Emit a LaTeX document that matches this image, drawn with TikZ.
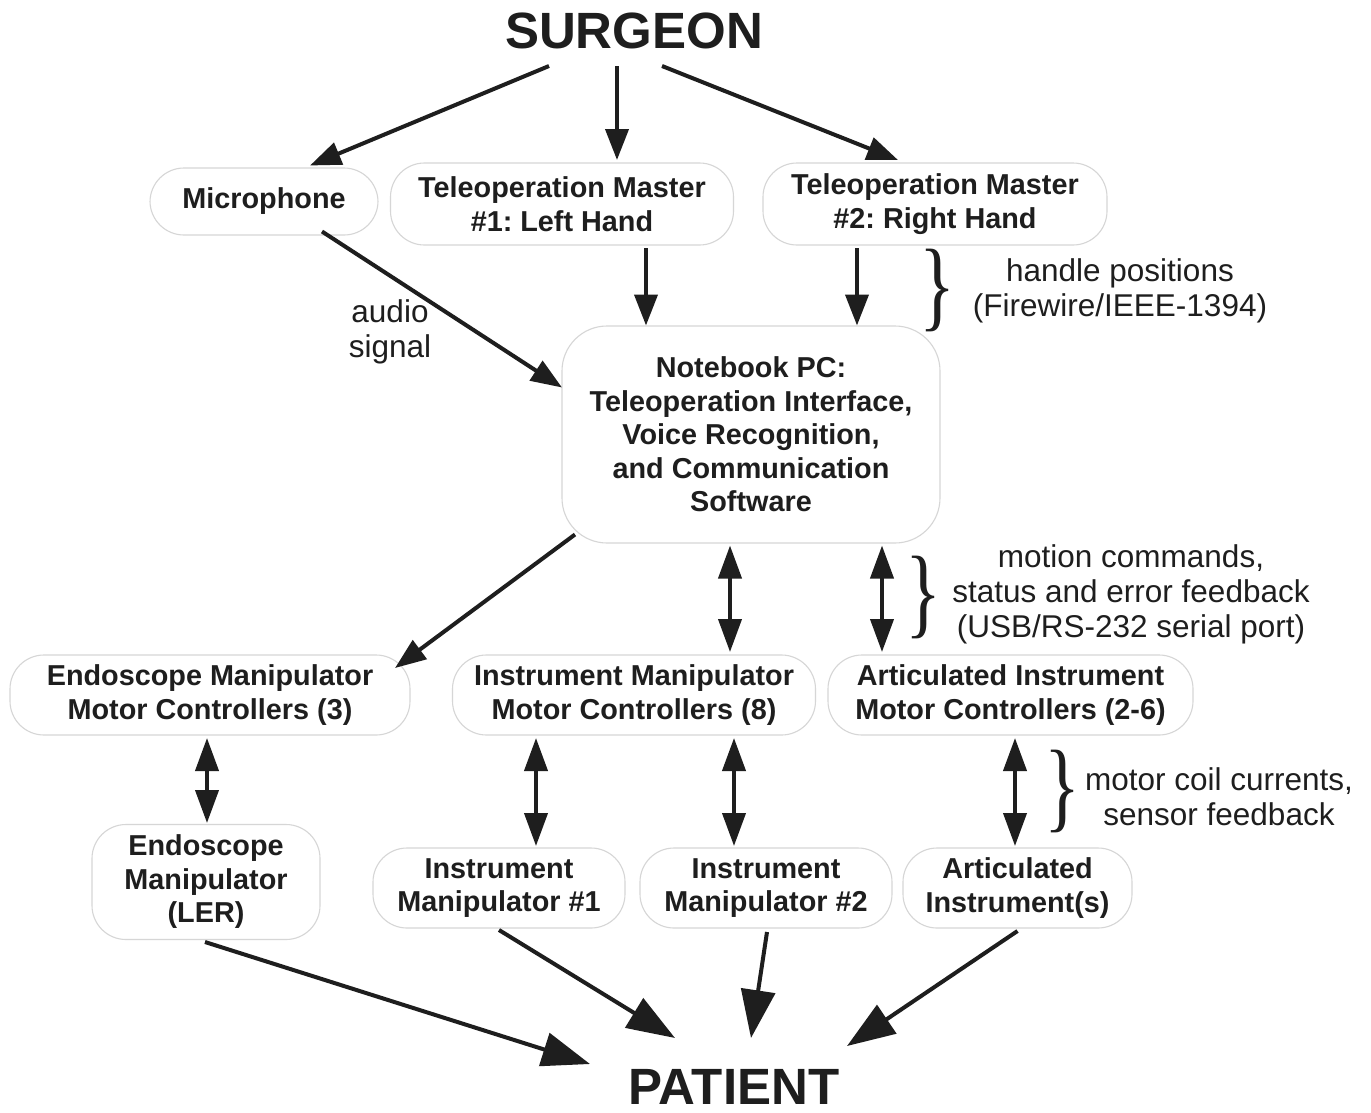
\documentclass[tikz,border=0pt]{standalone}
\usepackage{fontspec}
\setmainfont{Liberation Sans}
\newfontfamily\braceserif{Liberation Serif}
\usetikzlibrary{arrows.meta}
\definecolor{ink}{HTML}{1E1E1E}
\definecolor{boxline}{HTML}{D6D6D6}
\frenchspacing
\begin{document}
\begin{tikzpicture}[x=1pt,y=-1pt,
  rbox/.style={draw=boxline, line width=1.1pt, rounded corners=34pt, align=center,
    inner sep=0pt, text=ink, font=\fontsize{28.8}{33.5}\selectfont\bfseries},
  lbl/.style={align=center, inner sep=0pt, text=ink, font=\fontsize{31.5}{35}\selectfont},
  big/.style={inner sep=0pt, text=ink, font=\fontsize{51}{51}\selectfont\bfseries},
  brc/.style={inner sep=0pt, text=ink},
  arr/.style={draw=ink, line width=4pt, -{Triangle[length=31pt,width=23pt]}},
  darr/.style={draw=ink, line width=4pt, {Triangle[length=33pt,width=23pt]}-{Triangle[length=33pt,width=23pt]}},
  bigarr/.style={draw=ink, line width=4pt, -{Triangle[length=48pt,width=34pt]}}]
\useasboundingbox (0,0) rectangle (1371,1112);
\fill[white] (0,0) rectangle (1371,1112);

\node[big] (surgeon) at (634,31) {SURGEON};
\node[big] (patient) at (734,1087) {PATIENT};

\node[rbox, minimum width=228pt, minimum height=67pt] (mic) at (264,201.5) {Microphone};
\node[rbox, minimum width=343pt, minimum height=82pt] (tm1) at (562,204) {Teleoperation Master\\\#1: Left Hand};
\node[rbox, minimum width=344pt, minimum height=82pt] (tm2) at (935,204) {Teleoperation Master\\\#2: Right Hand};
\node[rbox, rounded corners=45pt, minimum width=378pt, minimum height=217pt] (pc) at (751,434.5)
  {Notebook PC:\\Teleoperation Interface,\\Voice Recognition,\\and Communication\\Software};
\node[rbox, minimum width=400pt, minimum height=80pt] (emc) at (210,695) {Endoscope Manipulator\\Motor Controllers (3)};
\node[rbox, minimum width=363pt, minimum height=80pt] (imc) at (634,695) {Instrument Manipulator\\Motor Controllers (8)};
\node[rbox, minimum width=365pt, minimum height=80pt] (aic) at (1010.5,695) {Articulated Instrument\\Motor Controllers (2-6)};
\node[rbox, minimum width=228pt, minimum height=115pt] (ler) at (206,882) {Endoscope\\Manipulator\\(LER)};
\node[rbox, minimum width=252pt, minimum height=80pt] (im1) at (499,888) {Instrument\\Manipulator \#1};
\node[rbox, minimum width=252pt, minimum height=80pt] (im2) at (766,888) {Instrument\\Manipulator \#2};
\node[rbox, minimum width=229pt, minimum height=80pt] (ai) at (1017.5,888) {Articulated\\Instrument(s)};

\node[lbl] (audio) at (390,332) {audio\\signal};
\node[lbl] (handle) at (1120,291) {handle positions\\(Firewire/IEEE-1394)};
\node[lbl] (motion) at (1131,594) {motion commands,\\status and error feedback\\(USB/RS-232 serial port)};
\node[lbl] (coil) at (1219,797) {motor coil currents,\\sensor feedback};

\node[brc] (b1) at (937,290) {\scalebox{0.75}[1]{\braceserif\fontsize{100}{100}\selectfont\}}};
\node[brc] (b2) at (923,597) {\scalebox{0.75}[1]{\braceserif\fontsize{100}{100}\selectfont\}}};
\node[brc] (b3) at (1062,791) {\scalebox{0.75}[1]{\braceserif\fontsize{100}{100}\selectfont\}}};

\draw[arr] ([shift={(-85,35)}]surgeon.center) -- ([shift={(46,-36)}]mic.center);
\draw[arr] ([shift={(-17,35)}]surgeon.center) -- ([shift={(55,-44)}]tm1.center);
\draw[arr] ([shift={(28,35)}]surgeon.center) -- ([shift={(-37,-44)}]tm2.center);
\draw[arr] ([shift={(58,30)}]mic.center) -- ([shift={(-189,-47)}]pc.center);
\draw[arr] ([shift={(84,44)}]tm1.center) -- ([shift={(-105,-109)}]pc.center);
\draw[arr] ([shift={(-78,44)}]tm2.center) -- ([shift={(106,-109)}]pc.center);
\draw[arr] ([shift={(-176,100)}]pc.center) -- ([shift={(185,-27)}]emc.center);
\draw[darr] ([shift={(-21,111)}]pc.center) -- ([shift={(96,-43)}]imc.center);
\draw[darr] ([shift={(131,111)}]pc.center) -- ([shift={(-128.5,-43)}]aic.center);
\draw[darr] ([shift={(-3,43)}]emc.center) -- ([shift={(1,-59)}]ler.center);
\draw[darr] ([shift={(-98,43)}]imc.center) -- ([shift={(37,-42)}]im1.center);
\draw[darr] ([shift={(100,43)}]imc.center) -- ([shift={(-32,-42)}]im2.center);
\draw[darr] ([shift={(4.5,43)}]aic.center) -- ([shift={(-2.5,-42)}]ai.center);
\draw[bigarr] ([shift={(-1,60)}]ler.center) -- ([shift={(-144,-23)}]patient.center);
\draw[bigarr] ([shift={(0,42)}]im1.center) -- ([shift={(-59,-49)}]patient.center);
\draw[bigarr] ([shift={(1,44)}]im2.center) -- ([shift={(17,-49)}]patient.center);
\draw[bigarr] ([shift={(0,43)}]ai.center) -- ([shift={(113,-41)}]patient.center);
\end{tikzpicture}
\end{document}
